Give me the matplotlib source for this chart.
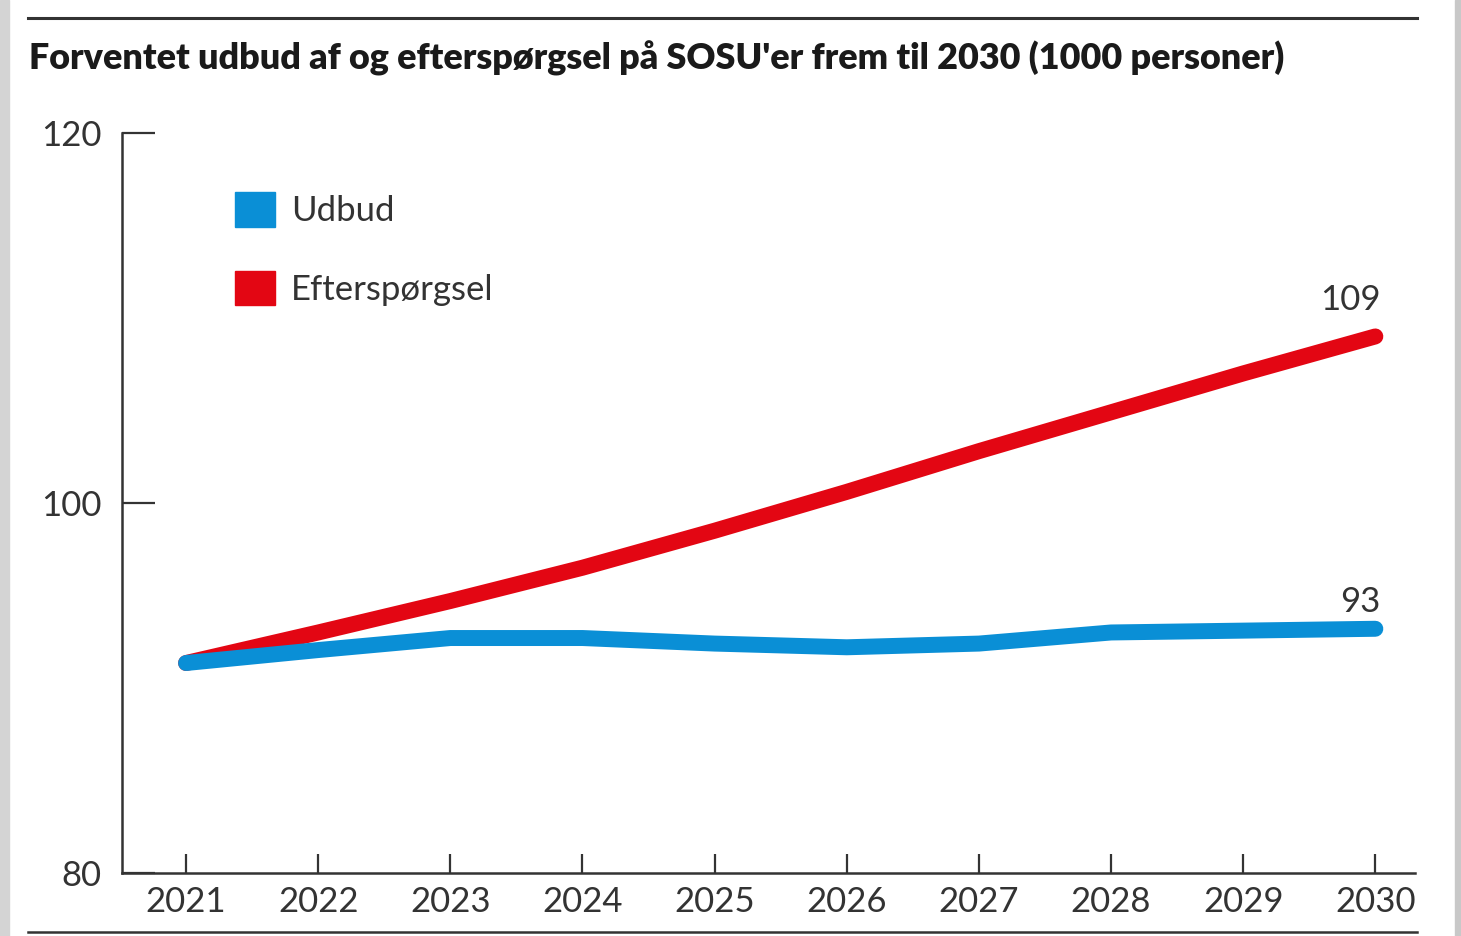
"""Forventet udbud af og efterspørgsel på SOSU'er frem til 2030."""

import matplotlib.pyplot as plt
from matplotlib.patches import Rectangle
from matplotlib.lines import Line2D

years = [2021, 2022, 2023, 2024, 2025, 2026, 2027, 2028, 2029, 2030]
udbud = [91.35, 92.05, 92.7, 92.7, 92.4, 92.2, 92.4, 93.0, 93.1, 93.2]
efterspoergsel = [91.35, 93.0, 94.7, 96.5, 98.5, 100.6, 102.8, 104.9, 107.0, 109.0]
y_ticks = [80, 100, 120]

BLUE = "#0A8FD6"
RED = "#E30613"
TXT = "#333333"
FONT = "Lato"

fig = plt.figure(figsize=(14.61, 9.36), dpi=100)
fig.patch.set_facecolor("white")

# grå kant venstre/højre
fig.add_artist(Rectangle((0, 0), 0.006, 1, transform=fig.transFigure, color="#d4d4d4"))
fig.add_artist(Rectangle((0.996, 0), 0.004, 1, transform=fig.transFigure, color="#c8c8c8"))

# linjer top og bund
fig.add_artist(Line2D([0.019, 0.970], [0.981, 0.981], transform=fig.transFigure,
                      color="#333333", lw=2.2))
fig.add_artist(Line2D([0.019, 0.970], [0.004, 0.004], transform=fig.transFigure,
                      color="#333333", lw=1.8))

fig.text(0.020, 0.938, "Forventet udbud af og efterspørgsel på SOSU'er frem til 2030 (1000 personer)",
         fontsize=25.8, fontweight="heavy", color="#1a1a1a", family=FONT, va="center",
         ha="left")

ax = fig.add_axes([0.0835, 0.0673, 0.885, 0.7907])
ax.plot(years, efterspoergsel, color=RED, lw=11.5, solid_capstyle="round",
        solid_joinstyle="round", zorder=3)
ax.plot(years, udbud, color=BLUE, lw=11.5, solid_capstyle="round",
        solid_joinstyle="round", zorder=4)

ax.set_xlim(2020.515, 2030.3)
ax.set_ylim(80, 120)
ax.set_xticks(years)
ax.set_yticks(y_ticks)
for s in ["top", "right"]:
    ax.spines[s].set_visible(False)
for s in ["left", "bottom"]:
    ax.spines[s].set_color("#333333")
    ax.spines[s].set_linewidth(1.8)
ax.tick_params(axis="both", direction="in", length=14, width=1.6, color="#333333",
               labelsize=25, labelcolor=TXT, pad=9)
ax.tick_params(axis="y", length=24, pad=15)
for lab in ax.get_xticklabels() + ax.get_yticklabels():
    lab.set_family(FONT)

# endeværdier
ax.annotate(f"{efterspoergsel[-1]:.0f}", (years[-1], efterspoergsel[-1]),
            xytext=(4, 15), textcoords="offset points", ha="right", va="bottom",
            fontsize=25, color=TXT, family=FONT)
ax.annotate(f"{udbud[-1]:.0f}", (years[-1], udbud[-1]),
            xytext=(4, 8), textcoords="offset points", ha="right", va="bottom",
            fontsize=25, color=TXT, family=FONT)

# legende
handles = [Rectangle((0, 0), 1, 1, color=BLUE), Rectangle((0, 0), 1, 1, color=RED)]
leg = ax.legend(handles, ["Udbud", "Efterspørgsel"], loc="upper left",
                bbox_to_anchor=(0.0635, 0.962), frameon=False, handlelength=1.15,
                handleheight=1.15, handletextpad=0.45, labelspacing=1.25,
                prop={"family": FONT, "size": 25})
for t in leg.get_texts():
    t.set_color(TXT)

plt.savefig("out.png", dpi=100, facecolor="white")
